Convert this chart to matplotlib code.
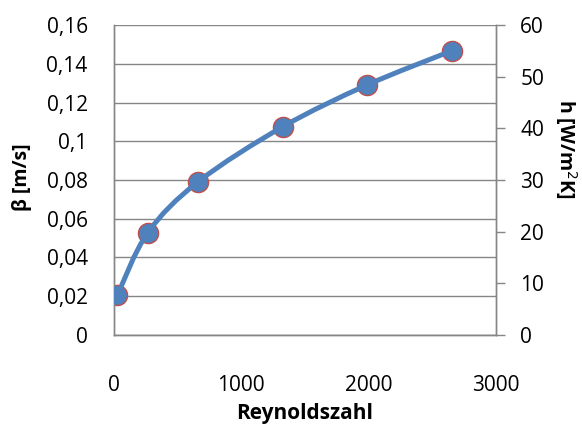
import matplotlib
matplotlib.use("Agg")
import matplotlib.pyplot as plt
import matplotlib.ticker as mticker
import numpy as np
from matplotlib.path import Path
from matplotlib.patches import PathPatch

# -- Data ----------------------------------------------------------------------
reynolds = [26, 265, 663, 1325, 1988, 2652]
beta = [0.0206, 0.0528, 0.0791, 0.1075, 0.1290, 0.1468]     # m/s, left axis
h_coef = [7.7, 19.8, 29.7, 40.3, 48.4, 55.0]                  # W/m^2K, right axis

BLUE = "#4F81BD"
RED = "#C0504D"
GREY = "#868686"

plt.rcParams["font.family"] = ["Open Sans", "DejaVu Sans"]


def smooth_path(xs, ys, t=1 / 6):
    """Excel-like smoothed line as cubic Bezier segments through the points."""
    pts = np.column_stack([xs, ys]).astype(float)
    n = len(pts)
    verts = [pts[0]]
    codes = [Path.MOVETO]
    for i in range(n - 1):
        p_prev = pts[i - 1] if i > 0 else pts[i]
        p_next2 = pts[i + 2] if i + 2 < n else pts[i + 1]
        c1 = pts[i] + (pts[i + 1] - p_prev) * t
        c2 = pts[i + 1] - (p_next2 - pts[i]) * t
        verts += [c1, c2, pts[i + 1]]
        codes += [Path.CURVE4] * 3
    return Path(verts, codes)


fig = plt.figure(figsize=(5.82, 4.25), dpi=100)
ax = fig.add_axes([0.196, 0.212, 0.656, 0.729])
ax2 = ax.twinx()

# -- beta series (red markers, underneath) ---------------------------------------
ax.plot(reynolds, beta, linestyle="none", marker="o", markersize=14.5,
        markerfacecolor=RED, markeredgecolor=RED, zorder=3)

# -- h series (smoothed blue line with markers) -----------------------------------
ax2.add_patch(PathPatch(smooth_path(reynolds, h_coef), facecolor="none",
                        edgecolor=BLUE, linewidth=3.6, capstyle="round", zorder=4))
ax2.plot(reynolds, h_coef, linestyle="none", marker="o", markersize=12.5,
         markerfacecolor=BLUE, markeredgecolor=BLUE, zorder=5)

# -- Axes ranges / ticks ------------------------------------------------------------
ax.set_xlim(0, 3000)
ax.set_ylim(0, 0.16)
ax2.set_ylim(0, 60)
ax.set_xticks([0, 1000, 2000, 3000])
ax.set_yticks(np.arange(0, 0.161, 0.02))
ax2.set_yticks(range(0, 61, 10))
ax.yaxis.set_major_formatter(
    mticker.FuncFormatter(lambda v, _: f"{round(v, 2):g}".replace(".", ",")))

ax.tick_params(axis="x", length=0, pad=29, labelsize=15)
ax.tick_params(axis="y", length=0, pad=19, labelsize=15)
ax2.tick_params(axis="y", length=6.5, width=1, color=GREY, pad=11, labelsize=15)

# -- Grid / spines ------------------------------------------------------------------
ax.yaxis.grid(True, color=GREY, linewidth=1)
ax.set_axisbelow(True)
for a in (ax, ax2):
    a.spines["top"].set_visible(False)
    for s in ("left", "right", "bottom"):
        a.spines[s].set_color(GREY)
        a.spines[s].set_linewidth(1)
ax.patch.set_visible(False)
ax2.set_zorder(ax.get_zorder() + 1)
ax2.patch.set_visible(False)

# -- Labels -------------------------------------------------------------------------
ax.set_xlabel("Reynoldszahl", fontsize=15, fontweight="bold", va="baseline")
ax.xaxis.set_label_coords(0.5, -0.27)
ax.set_ylabel("β [m/s]", fontsize=14, fontweight="bold", va="center")
ax.yaxis.set_label_coords(-0.24, 0.51)
ax2.set_ylabel("h [W/m$^2$K]", fontsize=14, fontweight="bold", rotation=-90,
               va="center")
ax2.yaxis.set_label_coords(1.183, 0.6)

fig.savefig("out.png", dpi=100)
